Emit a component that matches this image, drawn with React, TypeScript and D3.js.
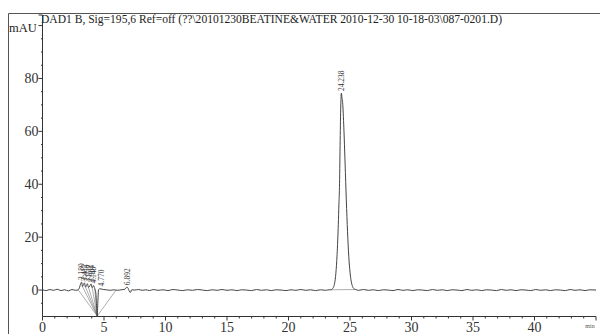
import { useRef, useEffect } from 'react';
import * as d3 from 'd3';

// chromatogram trace: [time (min), signal (mAU)]
const traceBaseA: [number, number][] = [
  [0, 0.1], [0.3, -0.2], [0.6, 0.2], [0.9, -0.1], [1.2, 0.3], [1.5, -0.2], [1.8, 0.1],
  [2.1, -0.3], [2.4, 0.2], [2.7, -0.1],
];
const traceCluster: [number, number][] = [
  [2.9, 0.1], [2.98, 0.6], [3.05, 1.6], [3.12, 2.6], [3.18, 3.0], [3.25, 1.3], [3.32, 2.0],
  [3.41, 2.7], [3.5, 1.1], [3.58, 1.8], [3.65, 2.4], [3.74, 1.0], [3.84, 1.5], [3.95, 2.3],
  [4.04, 0.9], [4.15, 1.7], [4.25, 0.5], [4.34, -1.2], [4.4, -6.5], [4.45, -9.8], [4.5, -4.5],
  [4.56, 0.2], [4.65, 0.5], [4.77, 0.4], [4.95, 0.2], [5.2, 0.1], [5.5, -0.1], [5.8, 0.1],
  [6.1, -0.1], [6.4, 0.1], [6.7, 0.3], [6.85, 1.1], [6.95, 0.8], [7.05, -0.4], [7.15, -0.9],
  [7.25, 0.1], [7.5, 0],
];
const traceBaseB: [number, number][] = [
  [7.8, 0.2], [8.1, -0.1], [8.4, 0.1], [8.7, -0.2], [9.0, 0.2], [9.4, -0.1], [9.8, 0.1],
  [10.2, -0.2], [10.6, 0.2], [11.0, 0], [11.4, -0.2], [11.8, 0.1], [12.2, -0.1], [12.6, 0.2],
  [13.0, 0], [13.4, -0.2], [13.8, 0.1], [14.2, -0.1], [14.6, 0.2], [15.0, -0.1], [15.4, 0.1],
  [15.8, -0.2], [16.2, 0.1], [16.6, 0], [17.0, -0.2], [17.4, 0.2], [17.8, -0.1], [18.2, 0.1],
  [18.6, -0.2], [19.0, 0.1], [19.4, 0], [19.8, -0.2], [20.2, 0.1], [20.6, -0.1], [21.0, 0.2],
  [21.4, -0.1], [21.8, 0.1], [22.2, -0.2], [22.6, 0.1], [23.0, -0.1], [23.3, 0.1],
];
const tracePeak: [number, number][] = [
  [23.45, 0.1], [23.55, 0.4], [23.65, 1.0], [23.75, 2.6], [23.85, 6.3], [23.95, 13.4],
  [24.05, 24.9], [24.1, 32.5], [24.15, 40.2], [24.2, 56.6], [24.25, 69.6], [24.3, 74.5],
  [24.35, 72.5], [24.4, 70.9], [24.5, 61.3], [24.6, 48.0], [24.7, 34.1], [24.8, 22.0],
  [24.9, 12.8], [25.0, 6.8], [25.1, 3.3], [25.2, 1.4], [25.3, 0.6], [25.45, 0.2],
];
const traceBaseC: [number, number][] = [
  [25.7, -0.1], [26.1, 0.2], [26.5, -0.1], [26.9, 0.1], [27.3, -0.2], [27.7, 0.1], [28.1, 0],
  [28.5, -0.2], [28.9, 0.2], [29.3, -0.1], [29.7, 0.1], [30.1, -0.2], [30.5, 0.1], [30.9, 0],
  [31.3, -0.2], [31.7, 0.2], [32.1, -0.1], [32.5, 0.1], [32.9, -0.2], [33.3, 0.1], [33.7, 0],
  [34.1, -0.2], [34.5, 0.2], [34.9, -0.1], [35.3, 0.1], [35.7, -0.2], [36.1, 0.1], [36.5, 0],
  [36.9, -0.2], [37.3, 0.2], [37.7, -0.1], [38.1, 0.1], [38.5, -0.2], [38.9, 0.1], [39.3, 0],
  [39.7, -0.2], [40.1, 0.2], [40.5, -0.1], [40.9, 0.1], [41.3, -0.2], [41.7, 0.1], [42.1, 0],
  [42.5, -0.2], [42.9, 0.2], [43.3, -0.1], [43.7, 0.1], [44.1, -0.2], [44.5, 0.1], [45, 0],
];

// integration marks: baseline segments and peak labels
const baselineSegs: [number, number, number, number][] = [
  [2.9, 0.1, 4.45, -9.8],
  [3.25, 1.3, 4.45, -9.8],
  [3.5, 1.1, 4.45, -9.8],
  [3.74, 1.0, 4.45, -9.8],
  [4.04, 0.9, 4.45, -9.8],
  [4.25, 0.5, 4.45, -9.8],
  [4.45, -9.8, 6.0, 0.1],
  [23.45, 0.1, 25.45, 0.2],
];
const peakTimes = [3.18, 3.41, 3.65, 3.95, 4.15, 4.77, 6.89, 24.3];
const peakTops = [3.0, 2.7, 2.4, 2.3, 1.7, 0.6, 1.1, 74.5];
const peakNames = ['3.180', '3.412', '3.650', '3.984', '4.148', '4.770', '6.892', '24.238'];

const xTicks = [0, 5, 10, 15, 20, 25, 30, 35, 40];
const yTicks = [0, 20, 40, 60, 80];
const title = 'DAD1 B, Sig=195,6 Ref=off (??\\20101230BEATINE&WATER 2010-12-30 10-18-03\\087-0201.D)';

export default function App() {
  const svgRef = useRef<SVGSVGElement>(null);

  useEffect(() => {
    if (!svgRef.current) return;
    const svg = d3.select(svgRef.current);
    svg.selectAll('*').remove();

    const font = 'Liberation Serif';
    const x = d3.scaleLinear().domain([0, 45]).range([42.5, 596]);
    const y = d3.scaleLinear().domain([-10, 104]).range([316.5, 15]);

    // frame
    svg.append('line').attr('x1', 8.5).attr('x2', 600).attr('y1', 13.5).attr('y2', 13.5)
      .attr('stroke', '#555').attr('stroke-width', 1);
    svg.append('line').attr('x1', 8.5).attr('x2', 8.5).attr('y1', 13.5).attr('y2', 334)
      .attr('stroke', '#555').attr('stroke-width', 1);

    // title
    svg.append('text').attr('x', 41).attr('y', 23).style('font-family', font)
      .attr('font-size', 12.5).attr('fill', '#222')
      .attr('textLength', 461).attr('lengthAdjust', 'spacingAndGlyphs').text(title);
    svg.append('text').attr('x', 9).attr('y', 32).style('font-family', font)
      .attr('font-size', 12.5).attr('fill', '#222').text('mAU');

    const axisColor = '#333';
    const g = svg.append('g');

    // y axis
    g.append('line').attr('x1', x(0)).attr('x2', x(0)).attr('y1', y(104)).attr('y2', y(-10))
      .attr('stroke', axisColor);
    g.append('line').attr('x1', x(0) - 4).attr('x2', x(0)).attr('y1', y(104)).attr('y2', y(104))
      .attr('stroke', axisColor);
    d3.range(-5, 101, 5).forEach(v => {
      const major = v % 20 === 0;
      g.append('line').attr('x1', x(0) - (major ? 4 : 1.5)).attr('x2', x(0))
        .attr('y1', y(v)).attr('y2', y(v)).attr('stroke', axisColor);
    });
    yTicks.forEach(v => {
      g.append('text').attr('x', x(0) - 4).attr('y', y(v) + 4.5).attr('text-anchor', 'end')
        .style('font-family', font).attr('font-size', 14).attr('fill', '#333').text(v);
    });

    // x axis
    g.append('line').attr('x1', x(0)).attr('x2', x(45)).attr('y1', y(-10)).attr('y2', y(-10))
      .attr('stroke', axisColor);
    d3.range(0, 46, 1).forEach(v => {
      const major = v % 5 === 0;
      g.append('line').attr('x1', x(v)).attr('x2', x(v))
        .attr('y1', y(-10)).attr('y2', y(-10) + (major ? 4 : 2)).attr('stroke', axisColor);
    });
    xTicks.forEach(v => {
      g.append('text').attr('x', x(v)).attr('y', 332).attr('text-anchor', 'middle')
        .style('font-family', font).attr('font-size', 14).attr('fill', '#333').text(v);
    });
    g.append('text').attr('x', 590).attr('y', 328).attr('text-anchor', 'middle')
      .style('font-family', font).attr('font-size', 6).attr('fill', '#555').text('min');

    // integration baselines
    baselineSegs.forEach(([t1, v1, t2, v2]) => {
      g.append('line').attr('x1', x(t1)).attr('y1', y(v1)).attr('x2', x(t2)).attr('y2', y(v2))
        .attr('stroke', '#777').attr('stroke-width', 0.6);
    });

    // trace
    const pts = [...traceBaseA, ...traceCluster, ...traceBaseB, ...tracePeak, ...traceBaseC];
    const line = d3.line<[number, number]>()
      .x(d => x(d[0]))
      .y(d => y(d[1]))
      .curve(d3.curveMonotoneX);
    g.append('path').datum(pts).attr('fill', 'none').attr('stroke', '#444')
      .attr('stroke-width', 1).attr('d', line);

    // peak labels
    peakTimes.forEach((t, i) => {
      const px = x(t);
      const py = y(peakTops[i]) - 2;
      g.append('text').attr('transform', `translate(${px + 2.5},${py}) rotate(-90)`)
        .style('font-family', font).attr('font-size', 7.5).attr('fill', '#333').text(peakNames[i]);
    });
  }, []);

  return (
    <svg
      ref={svgRef}
      width={600}
      height={334}
      style={{ position: 'absolute', left: 0, top: 0, background: '#fff' }}
    />
  );
}
